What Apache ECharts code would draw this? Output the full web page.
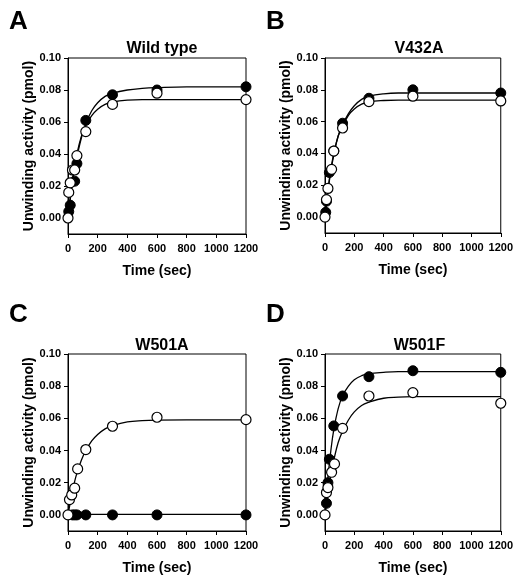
<!DOCTYPE html>
<html>
<head>
<meta charset="utf-8">
<script src="https://cdn.jsdelivr.net/npm/echarts@6/dist/echarts.min.js"></script>
<style>
html,body{margin:0;padding:0;background:#fff;}
#chart{width:516px;height:580px;}
</style>
</head>
<body>
<div id="chart"></div>
<script>
// ---- data ----
var panelLetters = ['A', 'B', 'C', 'D'];
var panelTitles = ['Wild type', 'V432A', 'W501A', 'W501F'];
var xTicks = [0, 200, 400, 600, 800, 1000, 1200];
var yTicks = [0, 0.02, 0.04, 0.06, 0.08, 0.10];

// Panel A
var aFilledT = [5, 15, 45, 60, 120, 300, 600, 1200];
var aFilledY = [0.004, 0.008, 0.023, 0.034, 0.061, 0.077, 0.080, 0.082];
var aOpenT = [0, 5, 15, 30, 45, 60, 120, 300, 600, 1200];
var aOpenY = [0.000, 0.016, 0.022, 0.030, 0.030, 0.039, 0.054, 0.071, 0.078, 0.074];
// Panel B
var bFilledT = [5, 10, 30, 60, 120, 300, 600, 1200];
var bFilledY = [0.003, 0.010, 0.028, 0.0415, 0.059, 0.0747, 0.080, 0.078];
var bOpenT = [0, 10, 20, 45, 60, 120, 300, 600, 1200];
var bOpenY = [0.000, 0.011, 0.018, 0.030, 0.0415, 0.056, 0.0726, 0.076, 0.073];
// Panel C
var cFilledT = [30, 45, 60, 120, 300, 600, 1200];
var cFilledY = [0.000, 0.000, 0.000, 0.000, 0.000, 0.000, 0.000];
var cOpenT = [0, 10, 25, 45, 65, 120, 300, 600, 1200];
var cOpenY = [0.000, 0.0095, 0.0124, 0.0166, 0.0286, 0.0406, 0.0551, 0.0607, 0.0592];
// Panel D
var dFilledT = [10, 20, 30, 60, 120, 300, 600, 1200];
var dFilledY = [0.0072, 0.020, 0.0346, 0.0553, 0.0739, 0.0859, 0.0896, 0.0886];
var dOpenT = [0, 10, 20, 45, 65, 120, 300, 600, 1200];
var dOpenY = [0.000, 0.0139, 0.017, 0.0265, 0.0317, 0.0538, 0.0739, 0.076, 0.0694];

// fitted curves
var curveT = [0, 20, 40, 60, 90, 120, 160, 200, 250, 300, 400, 500, 600, 800, 1200];
var aFilledCurve = [0, 0.015, 0.028, 0.038, 0.050, 0.059, 0.067, 0.072, 0.076, 0.078, 0.080, 0.081, 0.0815, 0.082, 0.082];
var aOpenCurve = [0, 0.017, 0.030, 0.040, 0.051, 0.058, 0.064, 0.068, 0.071, 0.0725, 0.0737, 0.074, 0.074, 0.074, 0.074];
var bFilledCurve = [0, 0.016, 0.029, 0.039, 0.051, 0.058, 0.065, 0.070, 0.074, 0.076, 0.0775, 0.078, 0.078, 0.078, 0.078];
var bOpenCurve = [0, 0.017, 0.030, 0.040, 0.051, 0.057, 0.064, 0.068, 0.071, 0.0725, 0.0733, 0.0735, 0.0735, 0.0735, 0.0735];
var cFilledCurve = [0.0003, 0.0003, 0.0003, 0.0003, 0.0003, 0.0003, 0.0003, 0.0003, 0.0003, 0.0003, 0.0003, 0.0003, 0.0003, 0.0003, 0.0003];
var cOpenCurve = [0, 0.010, 0.019, 0.026, 0.034, 0.040, 0.046, 0.050, 0.0535, 0.0555, 0.0578, 0.0586, 0.0589, 0.059, 0.059];
var dFilledCurve = [0, 0.023, 0.040, 0.053, 0.066, 0.074, 0.080, 0.084, 0.0865, 0.0878, 0.0886, 0.089, 0.089, 0.089, 0.089];
var dOpenCurve = [0, 0.013, 0.025, 0.034, 0.045, 0.052, 0.059, 0.064, 0.068, 0.070, 0.0725, 0.0732, 0.0735, 0.0735, 0.0735];

var panels = [
  {fT: aFilledT, fY: aFilledY, oT: aOpenT, oY: aOpenY, fC: aFilledCurve, oC: aOpenCurve},
  {fT: bFilledT, fY: bFilledY, oT: bOpenT, oY: bOpenY, fC: bFilledCurve, oC: bOpenCurve},
  {fT: cFilledT, fY: cFilledY, oT: cOpenT, oY: cOpenY, fC: cFilledCurve, oC: cOpenCurve},
  {fT: dFilledT, fY: dFilledY, oT: dOpenT, oY: dOpenY, fC: dFilledCurve, oC: dOpenCurve}
];

// ---- layout ----
var FONT = '"Liberation Sans", Arial, sans-serif';
var grids = [
  {left: 68, top: 58, width: 178, height: 176},
  {left: 325, top: 58, width: 178, height: 175},
  {left: 68, top: 354, width: 178, height: 177},
  {left: 325, top: 354, width: 179, height: 177}
];
var letterPos = [[4, 4], [261, 4], [4, 297], [261, 297]];
var titleY = [36, 36, 333, 333];

function zip(t, y) { return t.map(function (v, i) { return [v, y[i]]; }); }

var option = {
  backgroundColor: '#fff',
  animation: false,
  title: [],
  grid: [],
  xAxis: [],
  yAxis: [],
  series: []
};

grids.forEach(function (g, i) {
  option.grid.push({left: g.left, top: g.top, width: g.width, height: g.height,
    show: true, borderColor: '#000', borderWidth: 1, backgroundColor: 'transparent'});
  option.title.push({text: panelLetters[i], left: letterPos[i][0], top: letterPos[i][1],
    textStyle: {fontFamily: FONT, fontWeight: 'bold', fontSize: 26, color: '#000'}});
  option.title.push({text: panelTitles[i], left: g.left + g.width / 2, top: titleY[i], textAlign: 'center',
    textStyle: {fontFamily: FONT, fontWeight: 'bold', fontSize: 16, color: '#000'}});
  option.xAxis.push({
    gridIndex: i, type: 'value', min: 0, max: 1200, interval: 200,
    name: 'Time (sec)', nameLocation: 'middle', nameGap: 30,
    nameTextStyle: {fontFamily: FONT, fontWeight: 'bold', fontSize: 14, color: '#000'},
    axisLine: {show: true, onZero: false, lineStyle: {color: '#000', width: 1}},
    axisTick: {show: true, inside: false, length: 4, lineStyle: {color: '#000'}},
    axisLabel: {customValues: xTicks, fontFamily: FONT, fontWeight: 'bold', fontSize: 11, color: '#000', margin: 9,
      formatter: function (v) { return String(v); }},
    splitLine: {show: false}
  });
  option.yAxis.push({
    gridIndex: i, type: 'value', min: -0.01, max: 0.10,
    name: 'Unwinding activity (pmol)', nameLocation: 'middle', nameGap: 32,
    nameTextStyle: {fontFamily: FONT, fontWeight: 'bold', fontSize: 14, color: '#000'},
    axisLine: {show: true, onZero: false, lineStyle: {color: '#000', width: 1}},
    axisTick: {show: true, inside: false, length: 4, customValues: yTicks, lineStyle: {color: '#000'}},
    axisLabel: {customValues: yTicks, fontFamily: FONT, fontWeight: 'bold', fontSize: 11, color: '#000', margin: 7,
      formatter: function (v) { return v.toFixed(2); }},
    splitLine: {show: false}
  });
  var p = panels[i];
  option.series.push({type: 'line', xAxisIndex: i, yAxisIndex: i, data: zip(curveT, p.fC), smooth: 0.4,
    showSymbol: false, lineStyle: {color: '#000', width: 1.3}, z: 2});
  option.series.push({type: 'line', xAxisIndex: i, yAxisIndex: i, data: zip(curveT, p.oC), smooth: 0.4,
    showSymbol: false, lineStyle: {color: '#000', width: 1.3}, z: 2});
  option.series.push({type: 'scatter', xAxisIndex: i, yAxisIndex: i, data: zip(p.fT, p.fY), clip: false,
    symbol: 'circle', symbolSize: 10, itemStyle: {color: '#000', borderColor: '#000', borderWidth: 1, opacity: 1}, z: 3});
  option.series.push({type: 'scatter', xAxisIndex: i, yAxisIndex: i, data: zip(p.oT, p.oY), clip: false,
    symbol: 'circle', symbolSize: 10, itemStyle: {color: '#fff', borderColor: '#000', borderWidth: 1.2, opacity: 1}, z: 4});
});

var chart = echarts.init(document.getElementById('chart'), null, {renderer: 'canvas'});
chart.setOption(option);
</script>
</body>
</html>
